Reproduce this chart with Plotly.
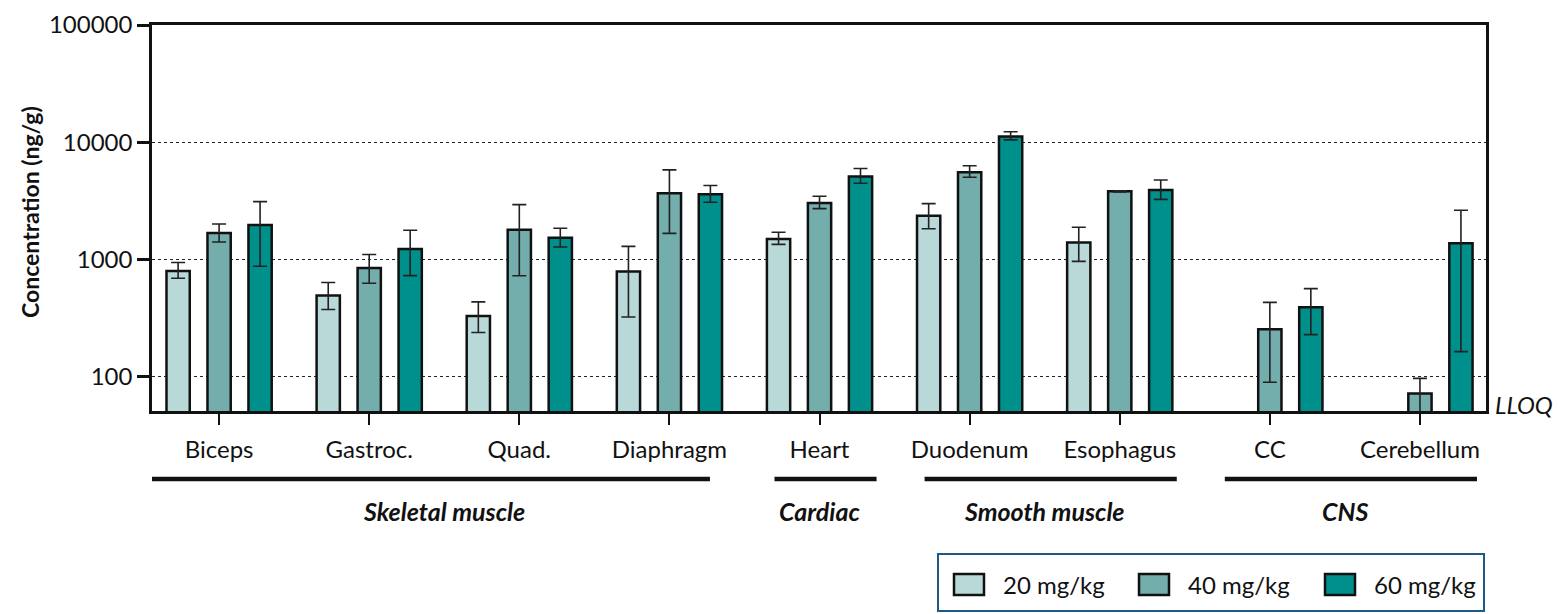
import math
import plotly.graph_objects as go

# ---------------- data ----------------
categories = ["Biceps", "Gastroc.", "Quad.", "Diaphragm", "Heart",
              "Duodenum", "Esophagus", "CC", "Cerebellum"]

series_names = ["20 mg/kg", "40 mg/kg", "60 mg/kg"]

mean_20 = [800, 493, 331, 792, 1497, 2367, 1397, None, None]
hi_20 = [943, 637, 436, 1297, 1708, 3000, 1888, None, None]
lo_20 = [693, 375, 239, 324, 1349, 1834, 966, None, None]

mean_40 = [1686, 848, 1798, 3680, 3040, 5560, 3820, 255, 72]
hi_40 = [2012, 1104, 2940, 5818, 3467, 6300, 3860, 432, 97]
lo_40 = [1413, 628, 727, 1674, 2717, 5035, 3780, 90, 20]

mean_60 = [1972, 1231, 1536, 3608, 5100, 11220, 3917, 392, 1377]
hi_60 = [3122, 1778, 1848, 4276, 5970, 12300, 4764, 565, 2630]
lo_60 = [877, 730, 1279, 3083, 4480, 10480, 3258, 229, 164]

groups = [("Skeletal muscle", 0, 3), ("Cardiac", 4, 4),
          ("Smooth muscle", 5, 6), ("CNS", 7, 8)]

y_tick_vals = [100, 1000, 10000, 100000]
y_tick_text = ["100", "1000", "10000", "100000"]
lloq = 50

# ---------------- style ----------------
colors = ["#b9d8d8", "#73adac", "#00908c"]
offsets = [-0.273, 0.0, 0.273]
bar_w = 0.155
FONT = "Lato"
INK = "#111111"

# page body has an 8px margin; compensate so the plot lands where intended
OFF = 8
W, H = 1568 - OFF, 614 - OFF
PL, PR, PT, PB = 152, 1486, 25, 411          # plot area in window pixels
L, T = PL - OFF, PT - OFF
R, B = W - (PR - OFF), H - (PB - OFF)
pw, ph = PR - PL, PB - PT


def px_x(px):
    return (px - PL) / pw


def px_y(py):
    return (PB - py) / ph


fig = go.Figure()

all_series = [(mean_20, hi_20, lo_20), (mean_40, hi_40, lo_40), (mean_60, hi_60, lo_60)]
for k, (m, hi, lo) in enumerate(all_series):
    xs = [i + offsets[k] for i in range(len(categories))]
    plus = [(h - v) if v is not None else None for v, h in zip(m, hi)]
    minus = [(v - l) if v is not None else None for v, l in zip(m, lo)]
    fig.add_trace(go.Bar(
        x=xs, y=m, width=bar_w, name=series_names[k],
        marker=dict(color=colors[k], line=dict(color=INK, width=2.5)),
        error_y=dict(type="data", symmetric=False, array=plus, arrayminus=minus,
                     color="#222222", thickness=1.6, width=7),
        showlegend=False,
    ))

fig.update_layout(
    width=W, height=H,
    margin=dict(l=L, r=R, t=T, b=B, autoexpand=False),
    paper_bgcolor="white", plot_bgcolor="white",
    font=dict(family=FONT, color=INK, size=24),
    barmode="overlay",
)

fig.update_xaxes(
    range=[-0.447, 8.44], automargin=False,
    tickmode="array", tickvals=list(range(len(categories))), ticktext=categories,
    ticks="outside", ticklen=11, tickwidth=2, tickcolor=INK,
    showline=True, linecolor=INK, linewidth=2.5, mirror=True,
    showgrid=False, zeroline=False,
    tickfont=dict(size=24, family=FONT, color=INK),
    ticklabelstandoff=4,
)

fig.update_yaxes(
    type="log", range=[math.log10(lloq) + 0.01, 5], automargin=False,
    tickmode="array", tickvals=y_tick_vals, ticktext=y_tick_text,
    ticks="outside", ticklen=12, tickwidth=2.5, tickcolor=INK,
    showline=True, linecolor=INK, linewidth=2.5, mirror=True,
    showgrid=True, gridcolor="#222222", gridwidth=1, griddash="dot",
    zeroline=False,
    tickfont=dict(size=24, family=FONT, color=INK),
)

shapes = []
annotations = []

# group brackets and labels
for name, a, b in groups:
    x0 = -0.457 if a == 0 else a - 0.3
    x1 = b + 0.27 if a == 0 else b + 0.38
    shapes.append(dict(type="line", xref="x", yref="paper",
                       x0=x0, x1=x1, y0=px_y(479), y1=px_y(479),
                       line=dict(color=INK, width=4.5)))
    annotations.append(dict(x=(a + b) / 2, y=px_y(511), xref="x", yref="paper",
                            text=f"<b><i>{name}</i></b>", showarrow=False,
                            xanchor="center", yanchor="middle",
                            font=dict(size=25, family=FONT, color=INK)))

# LLOQ label
annotations.append(dict(x=px_x(1493), y=px_y(404), xref="paper", yref="paper",
                        text="<i>LLOQ</i>", showarrow=False,
                        xanchor="left", yanchor="middle",
                        font=dict(size=24, family=FONT, color=INK)))

# y axis title
annotations.append(dict(x=px_x(30), y=px_y(212), xref="paper", yref="paper",
                        text="<b>Concentration (ng/g)</b>", textangle=-90,
                        showarrow=False, xanchor="center", yanchor="middle",
                        font=dict(size=23, family=FONT, color=INK)))

# legend (manual)
shapes.append(dict(type="rect", xref="paper", yref="paper",
                   x0=px_x(938), x1=px_x(1484), y0=px_y(611), y1=px_y(554),
                   line=dict(color="#1d5b86", width=2), fillcolor="white"))
sw_left = [954, 1139, 1325]
for k in range(3):
    shapes.append(dict(type="rect", xref="paper", yref="paper",
                       x0=px_x(sw_left[k]), x1=px_x(sw_left[k] + 30),
                       y0=px_y(595), y1=px_y(574),
                       line=dict(color=INK, width=2.5), fillcolor=colors[k]))
    annotations.append(dict(x=px_x(sw_left[k] + 47), y=px_y(584), xref="paper", yref="paper",
                            text=series_names[k], showarrow=False,
                            xanchor="left", yanchor="middle",
                            font=dict(size=24, family=FONT, color=INK)))

fig.update_layout(shapes=shapes, annotations=annotations)

fig.write_html("out.html")
